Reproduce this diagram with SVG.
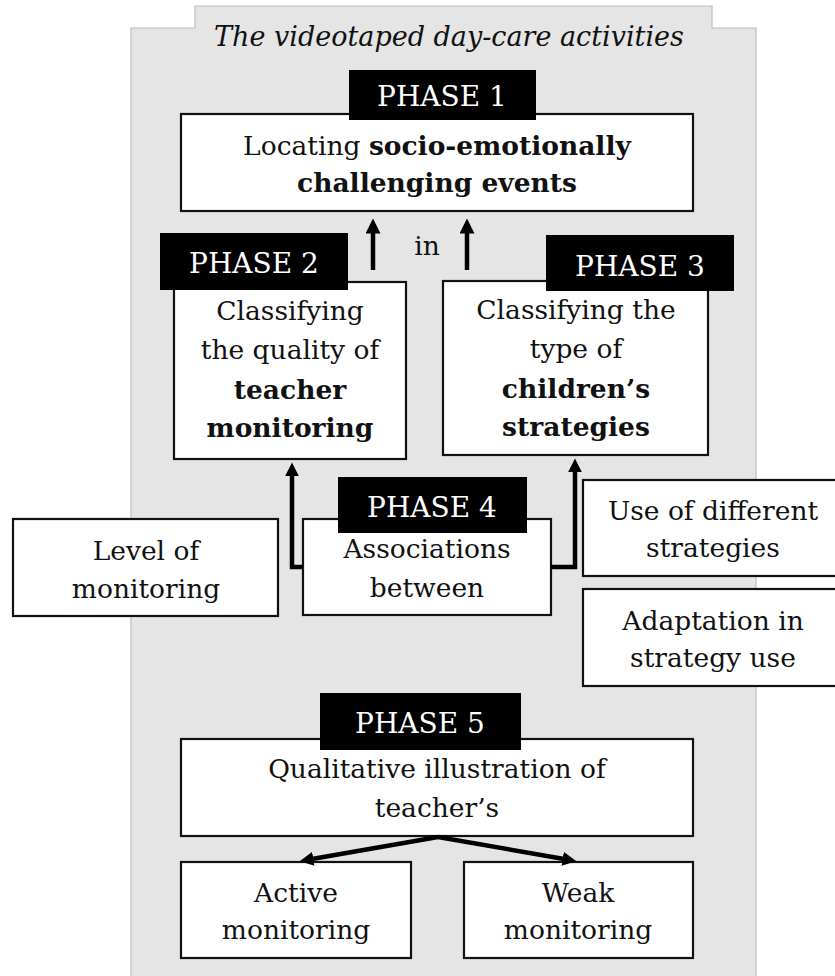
<svg xmlns="http://www.w3.org/2000/svg" width="835" height="976" viewBox="0 0 835 976">
<style>
.bg{fill:#e5e5e5;stroke:#bdbdbd;stroke-width:1.2}
.box{fill:#fff;stroke:#111;stroke-width:2.2}
.lab{fill:#000}
.t{font-family:"DejaVu Serif","Liberation Serif",serif;font-size:26.5px;fill:#111;text-anchor:middle}
.b{font-weight:bold}
.lt{font-family:"DejaVu Serif","Liberation Serif",serif;font-size:28px;fill:#fff;text-anchor:middle}
.title{font-family:"DejaVu Serif","Liberation Serif",serif;font-size:27px;font-style:italic;fill:#111;text-anchor:middle}
.c{fill:none;stroke:#000;stroke-width:4.5}
</style>
<defs>
<marker id="ah" viewBox="0 0 10 10" refX="1" refY="5" markerWidth="17" markerHeight="15" markerUnits="userSpaceOnUse" orient="auto">
<path d="M0,0 L10,5 L0,10 z" fill="#000"/>
</marker>
<marker id="ah2" viewBox="0 0 10 10" refX="1" refY="5" markerWidth="14" markerHeight="14" markerUnits="userSpaceOnUse" orient="auto">
<path d="M0,0 L10,5 L0,10 z" fill="#000"/>
</marker>
</defs>
<path class="bg" d="M131,28 H195 V6 H712 V28 H756 V990 H131 Z"/>
<text class="title" x="449" y="46">The videotaped day-care activities</text>

<g id="phase1">
<rect class="box" x="181" y="114" width="512" height="97"/>
<rect class="lab" x="349" y="70" width="187" height="50"/>
<text class="lt" x="442" y="106">PHASE 1</text>
<text class="t" x="437" y="155">Locating <tspan class="b">socio-emotionally</tspan></text>
<text class="t b" x="437" y="192">challenging events</text>
</g>

<g id="phase2">
<rect class="box" x="174" y="282" width="232" height="177"/>
<rect class="lab" x="160" y="233" width="188" height="57"/>
<text class="lt" x="254" y="273">PHASE 2</text>
<text class="t" x="290" y="320">Classifying</text>
<text class="t" x="290" y="359">the quality of</text>
<text class="t b" x="290" y="399">teacher</text>
<text class="t b" x="290" y="437">monitoring</text>
</g>

<g id="phase3">
<rect class="box" x="443" y="281" width="265" height="174"/>
<rect class="lab" x="546" y="235" width="188" height="56"/>
<text class="lt" x="640" y="276">PHASE 3</text>
<text class="t" x="576" y="319">Classifying the</text>
<text class="t" x="576" y="358">type of</text>
<text class="t b" x="576" y="398">children’s</text>
<text class="t b" x="576" y="436">strategies</text>
</g>

<text class="t" x="427" y="255">in</text>

<g id="level">
<rect class="box" x="13" y="519" width="265" height="97"/>
<text class="t" x="146" y="560">Level of</text>
<text class="t" x="146" y="598">monitoring</text>
</g>

<g id="phase4">
<rect class="box" x="303" y="519" width="248" height="96"/>
<rect class="lab" x="338" y="477" width="189" height="56"/>
<text class="lt" x="432" y="517">PHASE 4</text>
<text class="t" x="427" y="558">Associations</text>
<text class="t" x="427" y="597">between</text>
</g>

<g id="usediff">
<rect class="box" x="583" y="480" width="262" height="96"/>
<text class="t" x="713" y="520">Use of different</text>
<text class="t" x="713" y="557">strategies</text>
</g>

<g id="adapt">
<rect class="box" x="583" y="589" width="262" height="97"/>
<text class="t" x="713" y="630">Adaptation in</text>
<text class="t" x="713" y="667">strategy use</text>
</g>

<g id="phase5">
<rect class="box" x="181" y="739" width="512" height="97"/>
<rect class="lab" x="320" y="693" width="201" height="57"/>
<text class="lt" x="420" y="733">PHASE 5</text>
<text class="t" x="437" y="778">Qualitative illustration of</text>
<text class="t" x="437" y="817">teacher’s</text>
</g>

<g id="active">
<rect class="box" x="181" y="862" width="230" height="96"/>
<text class="t" x="296" y="902">Active</text>
<text class="t" x="296" y="939">monitoring</text>
</g>

<g id="weak">
<rect class="box" x="464" y="862" width="229" height="96"/>
<text class="t" x="578" y="902">Weak</text>
<text class="t" x="578" y="939">monitoring</text>
</g>

<g id="connectors">
<path class="c" d="M373,270 V232" marker-end="url(#ah)"/>
<path class="c" d="M467,270 V232" marker-end="url(#ah)"/>
<path class="c" d="M303,567 H292 V475" marker-end="url(#ah2)"/>
<path class="c" d="M551,567 H575 V471" marker-end="url(#ah2)"/>
<path class="c" d="M438,837 L312,859" marker-end="url(#ah2)"/>
<path class="c" d="M438,837 L564,859" marker-end="url(#ah2)"/>
</g>
</svg>
